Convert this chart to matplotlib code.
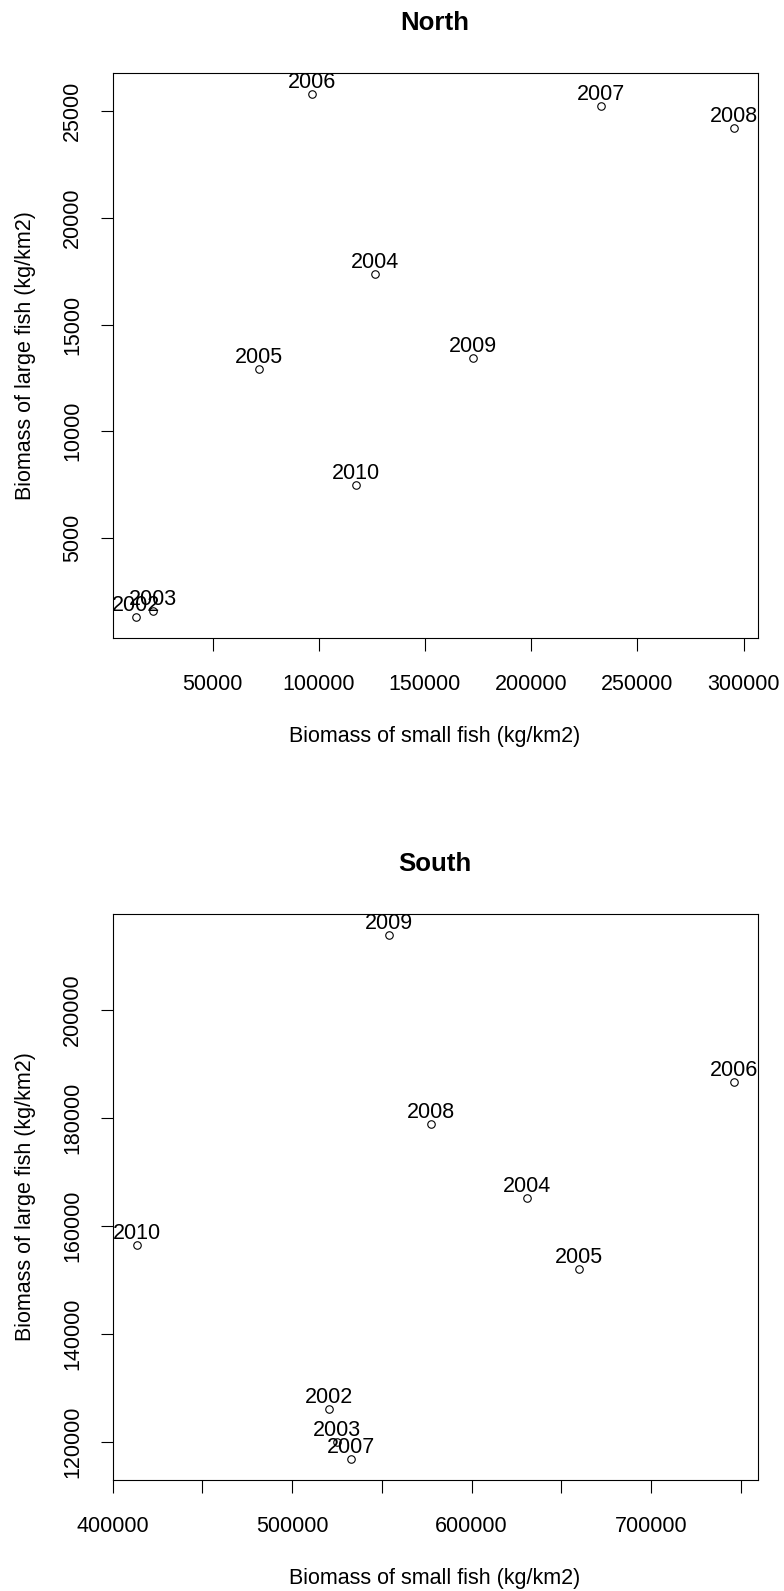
import matplotlib
matplotlib.use("Agg")
import matplotlib.pyplot as plt

# ====================================
# DATOS
# ====================================

years = [2002, 2003, 2004, 2005, 2006, 2007, 2008, 2009, 2010]

north_small = [14140, 21900, 126660, 71890, 96640, 232840, 295330, 172600, 117670]
north_large = [1281, 1563, 17367, 12937, 25815, 25266, 24200, 13437, 7469]

south_small = [520500, 525230, 630980, 659640, 745920, 533020, 577270, 553890, 413640]
south_large = [126010, 120000, 165080, 152040, 186690, 116780, 178950, 213930, 156430]

north_xticks = [50000, 100000, 150000, 200000, 250000, 300000]
north_xlabels = ["50000", "100000", "150000", "200000", "250000", "300000"]
north_yticks = [5000, 10000, 15000, 20000, 25000]

south_xticks = [400000, 450000, 500000, 550000, 600000, 650000, 700000, 750000]
south_xlabels = ["400000", "", "500000", "", "600000", "", "700000", ""]
south_yticks = [120000, 140000, 160000, 180000, 200000]

# ====================================
# GRÁFICA
# ====================================

plt.rcParams["font.family"] = ["Liberation Sans", "DejaVu Sans"]
FS = 15.5

fig = plt.figure(figsize=(7.84, 15.91), dpi=100)


def panel(rect, title, xs, ys, xticks, xlabels, yticks):
    ax = fig.add_axes(rect)
    ax.plot(xs, ys, "o", ms=5.4, mfc="none", mec="black", mew=0.8)

    # etiqueta de año sobre cada punto
    for yr, x, y in zip(years, xs, ys):
        ax.annotate(
            str(yr), (x, y),
            textcoords="offset points", xytext=(0, 8.3),
            ha="center", va="center", fontsize=FS,
            annotation_clip=False
        )

    ax.margins(0.04)
    ax.set_xticks(xticks, xlabels)
    ax.set_yticks(yticks, [str(v) for v in yticks])
    ax.tick_params(length=9, width=0.8, labelsize=FS)
    ax.tick_params(axis="x", pad=17)
    ax.tick_params(axis="y", pad=12, labelrotation=90)
    for lab in ax.get_yticklabels():
        lab.set_va("center")
    for sp in ax.spines.values():
        sp.set_linewidth(0.8)

    ax.set_title(title, fontsize=FS * 1.2, fontweight="bold", pad=31)
    ax.set_xlabel("Biomass of small fish (kg/km2)", fontsize=FS)
    ax.xaxis.set_label_coords(0.5, -0.1558)
    ax.set_ylabel("Biomass of large fish (kg/km2)", fontsize=FS)
    ax.yaxis.set_label_coords(-0.1186, 0.5)
    return ax


panel([0.1435, 0.5990, 0.8227, 0.3551], "North",
      north_small, north_large, north_xticks, north_xlabels, north_yticks)
panel([0.1435, 0.0698, 0.8227, 0.3558], "South",
      south_small, south_large, south_xticks, south_xlabels, south_yticks)

fig.savefig("out.png", dpi=100)
